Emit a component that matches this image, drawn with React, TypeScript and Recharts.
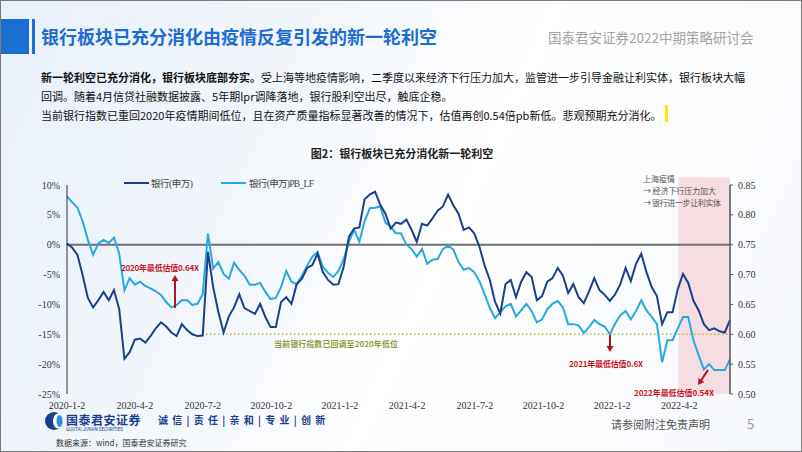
import React from "react";
import { ComposedChart, Line, XAxis, YAxis, ReferenceLine, ReferenceArea } from "recharts";

// weekly points from 2020-1-2
const startDate = "2020-1-2";
const tickDates = [
  "2020-1-2", "2020-4-2", "2020-7-2", "2020-10-2", "2021-1-2",
  "2021-4-2", "2021-7-2", "2021-10-2", "2022-1-2", "2022-4-2",
];
const leftTicks = [-25, -20, -15, -10, -5, 0, 5, 10];
const rightTicks = [0.5, 0.55, 0.6, 0.65, 0.7, 0.75, 0.8, 0.85];

// 银行(申万) cumulative change, %
const bankIndex = [
  0.2, -0.5, -1.7, -5.1, -8.9, -10.5, -9.3, -7.9, -9.3, -7.6,
  -10.8, -19.1, -18.0, -15.9, -15.7, -16.4, -15.3, -14.0, -13.0, -13.7,
  -14.7, -15.3, -13.3, -14.3, -15.0, -15.3, -15.2, -1.2, -7.1, -11.3,
  -14.7, -12.0, -10.5, -8.3, -10.6, -11.1, -11.6, -9.9, -12.1, -13.8,
  -13.8, -9.6, -8.8, -9.9, -6.6, -5.7, -3.9, -3.4, -1.5, -4.6,
  -5.9, -6.7, -6.6, -3.7, 1.3, 2.7, 2.9, 7.6, 8.4, 8.9,
  6.7, 5.2, 2.7, 3.7, 3.5, 4.2, 2.5, 0.5, 3.5, 3.2,
  4.4, 5.7, 6.4, 8.4, 6.6, 5.2, 2.5, 2.9, 1.9, -0.3,
  -3.5, -5.9, -9.6, -11.5, -6.6, -5.9, -8.8, -6.2, -4.6, -5.4,
  -9.3, -8.6, -6.2, -5.6, -3.9, -5.2, -8.1, -6.6, -8.8, -9.8,
  -7.8, -5.6, -7.6, -8.4, -9.4, -8.3, -6.6, -3.9, -6.1, -3.2,
  -1.5, -4.6, -7.1, -8.6, -13.3, -11.3, -11.3, -7.4, -4.9, -6.4,
  -9.4, -11.0, -13.3, -14.3, -14.0, -14.5, -14.7, -12.6,
];

// 银行(申万)PB_LF
const bankPb = [
  0.831, 0.821, 0.812, 0.789, 0.758, 0.733, 0.752, 0.758, 0.753, 0.762,
  0.735, 0.674, 0.694, 0.683, 0.688, 0.681, 0.677, 0.672, 0.666, 0.654,
  0.645, 0.649, 0.657, 0.657, 0.649, 0.651, 0.667, 0.769, 0.71, 0.721,
  0.701, 0.693, 0.72, 0.708, 0.698, 0.683, 0.683, 0.686, 0.671, 0.659,
  0.661, 0.679, 0.706, 0.688, 0.684, 0.698, 0.715, 0.73, 0.738, 0.713,
  0.703, 0.696, 0.706, 0.726, 0.755, 0.775, 0.755, 0.789, 0.811, 0.812,
  0.814, 0.787, 0.78, 0.769, 0.769, 0.75, 0.743, 0.73, 0.743, 0.718,
  0.725, 0.726, 0.743, 0.748, 0.742, 0.721, 0.708, 0.711, 0.704, 0.689,
  0.667, 0.644, 0.627, 0.637, 0.647, 0.651, 0.63, 0.64, 0.651, 0.639,
  0.62, 0.625, 0.642, 0.651, 0.656, 0.645, 0.617, 0.617, 0.615, 0.602,
  0.612, 0.624, 0.617, 0.613, 0.6, 0.618, 0.632, 0.639, 0.625, 0.639,
  0.657, 0.64, 0.629, 0.617, 0.553, 0.59, 0.59, 0.61, 0.629, 0.629,
  0.59, 0.565, 0.541, 0.55, 0.54, 0.54, 0.54, 0.558,
];

const DAY = 86400000;
const toTime = (s: string) => {
  const [y, m, d] = s.split("-").map(Number);
  return Date.UTC(y, m - 1, d);
};
const t0 = toTime(startDate);
const data = bankIndex.map((v, i) => ({ t: t0 + i * 7 * DAY, idx: v, pb: bankPb[i] }));
const tEnd = data[data.length - 1].t;
const tickTimes = tickDates.map(toTime);
const tickLabel = (v: number) => tickDates[tickTimes.indexOf(v)] ?? "";

const cjk = '"Noto Sans CJK SC", "Noto Sans", sans-serif';
const serif = '"Liberation Serif", "DejaVu Serif", "Noto Sans CJK SC", serif';
const axisTick = { fontSize: 10, fill: "#333", fontFamily: serif };

const Arrow = ({ x1, y1, x2, y2 }: { x1: number; y1: number; x2: number; y2: number }) => {
  const a = Math.atan2(y2 - y1, x2 - x1);
  const h = 6;
  const p1 = [x2 - h * Math.cos(a) + 3.5 * Math.sin(a), y2 - h * Math.sin(a) - 3.5 * Math.cos(a)];
  const p2 = [x2 - h * Math.cos(a) - 3.5 * Math.sin(a), y2 - h * Math.sin(a) + 3.5 * Math.cos(a)];
  return (
    <g>
      <line x1={x1} y1={y1} x2={x2 - 4 * Math.cos(a)} y2={y2 - 4 * Math.sin(a)} stroke="#b3141b" strokeWidth={2} />
      <polygon points={`${x2},${y2} ${p1[0]},${p1[1]} ${p2[0]},${p2[1]}`} fill="#b3141b" />
    </g>
  );
};

const App = () => {
  return (
    <div
      style={{
        position: "fixed", left: 0, top: 0, width: 802, height: 452, overflow: "hidden",
        boxSizing: "border-box", border: "1px solid #7a7a7a", fontFamily: cjk,
        background: "linear-gradient(115deg, #e8f0fa 0%, #f3f7fc 35%, #ffffff 55%, #f5f8fc 100%)",
      }}
    >
      {/* header */}
      <div style={{ position: "absolute", left: 0, top: 18, width: 28, height: 35, background: "#1b6fd1" }} />
      <div style={{ position: "absolute", left: 31, top: 18, width: 3, height: 35, background: "#1b6fd1" }} />
      <div style={{ position: "absolute", left: 40, top: 23, fontSize: 18, fontWeight: 700, color: "#1c6dd0", whiteSpace: "nowrap", lineHeight: "24px" }}>
        银行板块已充分消化由疫情反复引发的新一轮利空
      </div>
      <div style={{ position: "absolute", left: 547, top: 27, fontSize: 13.5, color: "#a3a3a3", whiteSpace: "nowrap", lineHeight: "18px" }}>
        国泰君安证券2022中期策略研讨会
      </div>

      {/* body text */}
      <div style={{ position: "absolute", left: 40, top: 67, fontSize: 11, color: "#111", whiteSpace: "nowrap", lineHeight: "18px" }}>
        <b>新一轮利空已充分消化，银行板块底部夯实。</b>受上海等地疫情影响，二季度以来经济下行压力加大，监管进一步引导金融让利实体，银行板块大幅
      </div>
      <div style={{ position: "absolute", left: 40, top: 86, fontSize: 11, color: "#111", whiteSpace: "nowrap", lineHeight: "18px" }}>
        回调。随着4月信贷社融数据披露、5年期lpr调降落地，银行股利空出尽，触底企稳。
      </div>
      <div style={{ position: "absolute", left: 40, top: 105, fontSize: 11, color: "#111", whiteSpace: "nowrap", lineHeight: "18px" }}>
        当前银行指数已重回2020年疫情期间低位，且在资产质量指标显著改善的情况下，估值再创0.54倍pb新低。悲观预期充分消化。
      </div>
      <div style={{ position: "absolute", left: 664, top: 104, width: 3, height: 17, background: "#ffe600" }} />

      <div style={{ position: "absolute", left: 0, width: 802, top: 144, textAlign: "center", fontSize: 11, fontWeight: 700, color: "#222", lineHeight: "16px" }}>
        图2：银行板块已充分消化新一轮利空
      </div>

      {/* chart */}
      <div style={{ position: "absolute", left: 0, top: 0 }}>
        <ComposedChart width={802} height={452} data={data} margin={{ top: 184, right: 33, bottom: 39, left: 26 }}>
          <ReferenceArea
            yAxisId="left" x1={toTime("2022-4-1")} x2={tEnd} y1={-25} y2={11.3}
            fill="#f3c9cf" fillOpacity={0.6} stroke="none" ifOverflow="visible"
          />
          <XAxis
            dataKey="t" type="number" domain={[t0, tEnd]} ticks={tickTimes} interval={0}
            tickFormatter={tickLabel} axisLine={false} tickLine={false} tickSize={0} tickMargin={8}
            height={20} tick={axisTick}
          />
          <YAxis
            yAxisId="left" domain={[-25, 10]} ticks={leftTicks} interval={0} width={40}
            tickFormatter={(v: number) => `${v}%`} axisLine={{ stroke: "#333", strokeWidth: 1 }}
            tickLine={false} tickSize={0} tickMargin={7} tick={axisTick}
          />
          <YAxis
            yAxisId="right" orientation="right" domain={[0.5, 0.85]} ticks={rightTicks} interval={0} width={40}
            tickFormatter={(v: number) => v.toFixed(2)} axisLine={{ stroke: "#555", strokeWidth: 1.5 }}
            tickLine={{ stroke: "#555" }} tickSize={3} tickMargin={5} tick={axisTick}
          />
          <ReferenceLine yAxisId="left" y={0} stroke="#6e6e6e" strokeWidth={2} />
          <ReferenceLine
            yAxisId="right"
            segment={[{ x: toTime("2020-7-1"), y: 0.6 }, { x: tEnd, y: 0.6 }]}
            stroke="#b3b52a" strokeWidth={1.5} strokeDasharray="1.5 2.5"
          />
          <Line yAxisId="right" dataKey="pb" stroke="#27a9e1" strokeWidth={2} dot={false} isAnimationActive={false} type="linear" />
          <Line yAxisId="left" dataKey="idx" stroke="#1c3f8c" strokeWidth={2} dot={false} isAnimationActive={false} type="linear" />
        </ComposedChart>
      </div>

      {/* legend and annotations */}
      <svg width={802} height={452} style={{ position: "absolute", left: 0, top: 0, pointerEvents: "none" }}>
        <line x1={123} y1={182} x2={148} y2={182} stroke="#1c3f8c" strokeWidth={2} />
        <text x={150} y={185.5} fontSize={9.5} fill="#444" fontFamily={serif} textLength={42}>银行(申万)</text>
        <line x1={220} y1={182} x2={245} y2={182} stroke="#27a9e1" strokeWidth={2} />
        <text x={248} y={185.5} fontSize={9.5} fill="#444" fontFamily={serif} textLength={65}>银行(申万)PB_LF</text>

        <g fontFamily={cjk} fontSize={8} fill="#555">
          <text x={642} y={181}>上海疫情</text>
          <text x={642} y={193} textLength={73}>→ 经济下行压力加大</text>
          <text x={642} y={204.5} textLength={78}>→ 银行进一步让利实体</text>
        </g>

        <g fontFamily={cjk} fontSize={8} fontWeight={700} fill="#c4161c">
          <text x={120} y={270} textLength={78}>2020年最低估值0.64X</text>
          <text x={568} y={366} textLength={74}>2021年最低估值0.6X</text>
          <text x={633} y={395} textLength={80}>2022年最低估值0.54X</text>
        </g>
        <Arrow x1={174} y1={307} x2={174} y2={274} />
        <Arrow x1={609} y1={334} x2={609} y2={351} />
        <Arrow x1={707} y1={369} x2={697} y2={384} />

        <text x={273} y={346} fontFamily={cjk} fontSize={8} fontWeight={700} fill="#8f9c3a" textLength={124}>
          当前银行指数已回调至2020年低位
        </text>

        {/* footer logo */}
        <circle cx={53} cy={420} r={9} fill="#1d3f8f" />
        <ellipse cx={57} cy={420} rx={5} ry={7.5} fill="#ffffff" />
        <ellipse cx={58.5} cy={420} rx={3} ry={6} fill="#2a8fd8" />
      </svg>

      <div style={{ position: "absolute", left: 65, top: 412, fontSize: 12, fontWeight: 700, color: "#1d3f8f", whiteSpace: "nowrap", lineHeight: "13px", letterSpacing: 0.5 }}>
        国泰君安证券
      </div>
      <div style={{ position: "absolute", left: 65, top: 426, fontSize: 4.5, color: "#1d3f8f", whiteSpace: "nowrap", lineHeight: "5px", fontFamily: "Roboto" }}>
        GUOTAI JUNAN SECURITIES
      </div>
      <div style={{ position: "absolute", left: 157, top: 412, fontSize: 10, fontWeight: 700, color: "#1d3f8f", whiteSpace: "nowrap", lineHeight: "14px", wordSpacing: 2 }}>
        诚&nbsp;信&nbsp;|&nbsp;责&nbsp;任&nbsp;|&nbsp;亲&nbsp;和&nbsp;|&nbsp;专&nbsp;业&nbsp;|&nbsp;创&nbsp;新
      </div>
      <div style={{ position: "absolute", left: 610, top: 415, fontSize: 11, color: "#555", whiteSpace: "nowrap", lineHeight: "16px" }}>
        请参阅附注免责声明
      </div>
      <div style={{ position: "absolute", left: 746, top: 414, fontSize: 13, color: "#9a9a9a", lineHeight: "18px" }}>5</div>
      <div style={{ position: "absolute", left: 55, top: 437, fontSize: 8, color: "#333", whiteSpace: "nowrap", lineHeight: "10px" }}>
        数据来源：wind，国泰君安证券研究
      </div>
    </div>
  );
};

export default App;
